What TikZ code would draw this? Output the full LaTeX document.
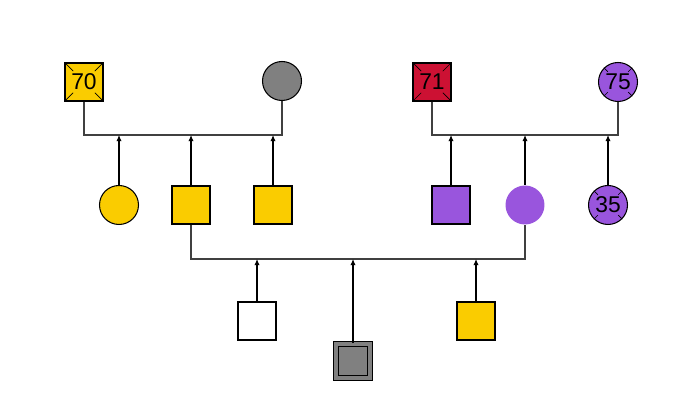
\documentclass[tikz,border=0pt]{standalone}
\usepackage{fontspec}
\setmainfont{Liberation Sans}
\usetikzlibrary{arrows.meta, calc, positioning}
\definecolor{gold}{RGB}{250,204,0}
\definecolor{crimson}{RGB}{204,17,51}
\definecolor{lilac}{RGB}{153,85,221}
\definecolor{ash}{RGB}{128,128,128}

\begin{document}
\begin{tikzpicture}[x=0.02cm, y=-0.02cm,
  male/.style={draw, rectangle, minimum size=0.76cm, line width=0.8pt, inner sep=0pt, font=\fontsize{13}{15}\selectfont},
  female/.style={draw, circle, minimum size=0.78cm, line width=0.6pt, inner sep=0pt, font=\fontsize{13}{15}\selectfont},
  couple/.style={draw=black!75, line width=1pt},
  child/.style={-{Latex[length=3.5pt, width=3pt]}, line width=0.6pt}]
  \useasboundingbox (0,0) rectangle (687,418);

  % grandparents
  \node[male, fill=gold] (m70) at (84,82) {70};
  \node[female, fill=ash] (gm1) at (282,81) {};
  \node[male, fill=crimson] (m71) at (432,82) {71};
  \node[female, fill=lilac] (f75) at (618,82) {75};

  % parents and siblings
  \node[female, fill=gold] (s1) at (119,205) {};
  \node[male, fill=gold] (dad) at (191,205) {};
  \node[male, fill=gold] (s2) at (273,205) {};
  \node[male, fill=lilac] (s3) at (451,205) {};
  \node[female, fill=lilac, draw=none] (mom) at (525,205) {};
  \node[female, fill=lilac] (f35) at (608,205) {35};

  % children
  \node[male, fill=white] (k1) at (257,321) {};
  \node[male, fill=ash, double=ash, double distance=2.2pt, line width=0.6pt, minimum size=0.68cm] (k2) at (353,361) {};
  \node[male, fill=gold] (k3) at (476,321) {};

  % deceased marks
  \foreach \n in {m70, m71}
    \foreach \c in {north west, north east, south west, south east}
      \draw[line width=0.4pt] (\n.\c) -- ($(\n.\c)!0.45!(\n.center)$);
  \foreach \n in {f75, f35}
    \foreach \a in {45, 135, 225, 315}
      \draw[line width=0.4pt] (\n.\a) -- ($(\n.\a)!0.28!(\n.center)$);

  % couples
  \coordinate (u1) at (183,135);
  \coordinate (u2) at (525,135);
  \coordinate (u3) at (353,259);
  \draw[couple] (m70.south) |- (u1) -| (gm1.south);
  \draw[couple] (m71.south) |- (u2) -| (f75.south);
  \draw[couple] (dad.south) |- (u3) -| (mom.south);

  % descent
  \foreach \n in {s1, dad, s2}
    \draw[child] (\n.north) -- (\n.north |- u1);
  \foreach \n in {s3, mom, f35}
    \draw[child] (\n.north) -- (\n.north |- u2);
  \foreach \n in {k1, k2, k3}
    \draw[child] (\n.north) -- (\n.north |- u3);
\end{tikzpicture}
\end{document}
